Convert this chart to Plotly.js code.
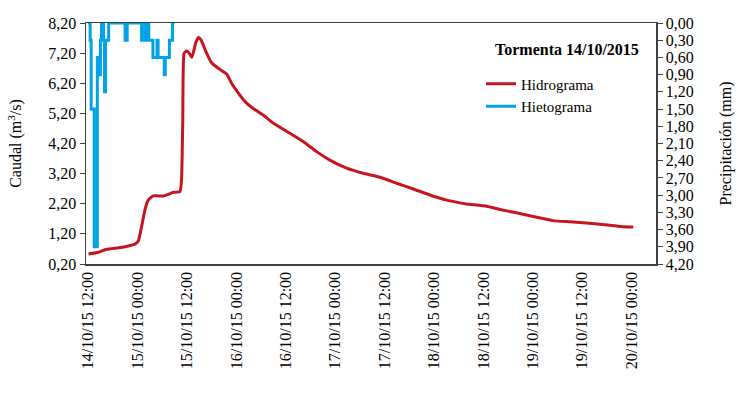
<!DOCTYPE html>
<html><head><meta charset="utf-8">
<script src="https://cdn.plot.ly/plotly-3.0.1.min.js"></script>
<style>html,body{margin:0;padding:0;background:#fff}#chart{width:738px;height:417px}</style>
</head><body><div id="chart"></div>
<script>
// Hours counted from 14/10/15 12:00
const tickHours = [0, 12, 24, 36, 48, 60, 72, 84, 96, 108, 120, 132];
const tickLabels = ["14/10/15 12:00", "15/10/15 00:00", "15/10/15 12:00", "16/10/15 00:00",
  "16/10/15 12:00", "17/10/15 00:00", "17/10/15 12:00", "18/10/15 00:00",
  "18/10/15 12:00", "19/10/15 00:00", "19/10/15 12:00", "20/10/15 00:00"];

const flowTicks = [0.2, 1.2, 2.2, 3.2, 4.2, 5.2, 6.2, 7.2, 8.2];
const rainTicks = [0, 0.3, 0.6, 0.9, 1.2, 1.5, 1.8, 2.1, 2.4, 2.7, 3.0, 3.3, 3.6, 3.9, 4.2];

// Hidrograma (caudal, m3/s)
const hydroHours = [0.1, 2.5, 4.5, 7.4, 9.8, 11.4, 12.2, 13.0, 13.8, 14.6, 15.8, 18.3, 19.5, 20.7, 22.3,
  22.7, 23.0, 23.3, 23.9, 24.5, 25.2, 26.2, 26.8, 27.4, 28.8, 30.0, 32.0, 33.7, 34.9, 36.5, 38.1,
  40.1, 42.6, 45.0, 49.0, 52.3, 55.5, 58.7, 62.8, 66.8, 70.9, 74.9, 79.0, 83.0, 87.1, 90.3, 91.9,
  96.8, 100.0, 104.0, 108.9, 112.9, 117.0, 121.8, 126.7, 129.9, 132.4];
const hydroFlow = [0.53, 0.59, 0.69, 0.74, 0.80, 0.86, 0.96, 1.44, 1.99, 2.32, 2.46, 2.46, 2.51, 2.58, 2.60,
  2.99, 4.98, 7.19, 7.27, 7.21, 7.06, 7.57, 7.72, 7.65, 7.19, 6.88, 6.66, 6.50, 6.19, 5.87, 5.59,
  5.36, 5.14, 4.87, 4.54, 4.26, 3.93, 3.65, 3.38, 3.21, 3.08, 2.88, 2.69, 2.49, 2.32, 2.23, 2.19,
  2.12, 2.01, 1.90, 1.75, 1.64, 1.60, 1.55, 1.49, 1.44, 1.43];

// Hietograma (precipitación, mm)
const rainHours = [0, 0.5, 0.75, 1.5, 2.25, 2.5, 3.0, 3.25, 3.75, 4.0, 4.25, 5.0, 9.0, 9.5,
  13.0, 13.75, 14.0, 14.5, 14.75, 15.75, 16.75, 17.0, 18.5, 18.75, 19.75, 20.5, 21.0];
const rainMm = [0, 0.3, 1.5, 3.9, 0.6, 0.9, 0.3, 0, 0.3, 1.2, 0.3, 0, 0.3, 0,
  0.3, 0, 0.3, 0, 0.3, 0.6, 0.3, 0.6, 0.9, 0.6, 0.3, 0, 0];

const FONT = "Liberation Serif, Times New Roman, serif";
const AX = "#404040";

const traces = [
  {x: hydroHours, y: hydroFlow, name: "Hidrograma", type: "scatter", mode: "lines",
   line: {color: "#C8141E", width: 3, shape: "spline", smoothing: 0.4}, yaxis: "y"},
  {x: rainHours, y: rainMm, name: "Hietograma", type: "scatter", mode: "lines",
   line: {color: "#00A2E8", width: 3, shape: "hv"}, yaxis: "y2"}
];

const layout = {
  width: 738, height: 417,
  margin: {l: 86, r: 82, t: 23, b: 153},
  paper_bgcolor: "#fff", plot_bgcolor: "#fff",
  separators: ",.",
  font: {family: FONT, size: 16, color: "#000"},
  showlegend: true,
  legend: {x: 0.693, y: 0.815, xanchor: "left", yanchor: "top", bgcolor: "rgba(0,0,0,0)",
    font: {family: FONT, size: 15, color: "#000"}, tracegroupgap: 0, itemwidth: 30},
  xaxis: {range: [-0.5, 137.9], tickmode: "array", tickvals: tickHours, ticktext: tickLabels,
    tickangle: -90, ticks: "", showgrid: false, zeroline: false, showline: true, mirror: true,
    linecolor: AX, linewidth: 1.5, tickfont: {family: FONT, size: 16, color: "#000"}},
  yaxis: {range: [0.2, 8.2], tickmode: "array", tickvals: flowTicks, tickformat: ".2f",
    ticks: "outside", ticklen: 5, tickcolor: AX, showgrid: false, zeroline: false, showline: true,
    linecolor: AX, linewidth: 1.5, tickfont: {family: FONT, size: 16, color: "#000"},
    title: {text: "Caudal (m<sup>3</sup>/s)", font: {family: FONT, size: 16, color: "#000"}, standoff: 22}},
  yaxis2: {range: [4.2, 0], overlaying: "y", side: "right", tickmode: "array", tickvals: rainTicks,
    tickformat: ".2f", ticks: "outside", ticklen: 5, tickcolor: AX, showgrid: false, zeroline: false,
    showline: true, linecolor: AX, linewidth: 1.5, tickfont: {family: FONT, size: 16, color: "#000"},
    title: {text: "Precipitación (mm)", font: {family: FONT, size: 16, color: "#000"}, standoff: 27}},
  annotations: [{text: "<b>Tormenta 14/10/2015</b>", xref: "paper", yref: "paper",
    x: 0.974, y: 0.888, xanchor: "right", yanchor: "middle", showarrow: false,
    font: {family: FONT, size: 16, color: "#000"}}]
};

Plotly.newPlot("chart", traces, layout, {displayModeBar: false, staticPlot: true});
</script>
</body></html>
